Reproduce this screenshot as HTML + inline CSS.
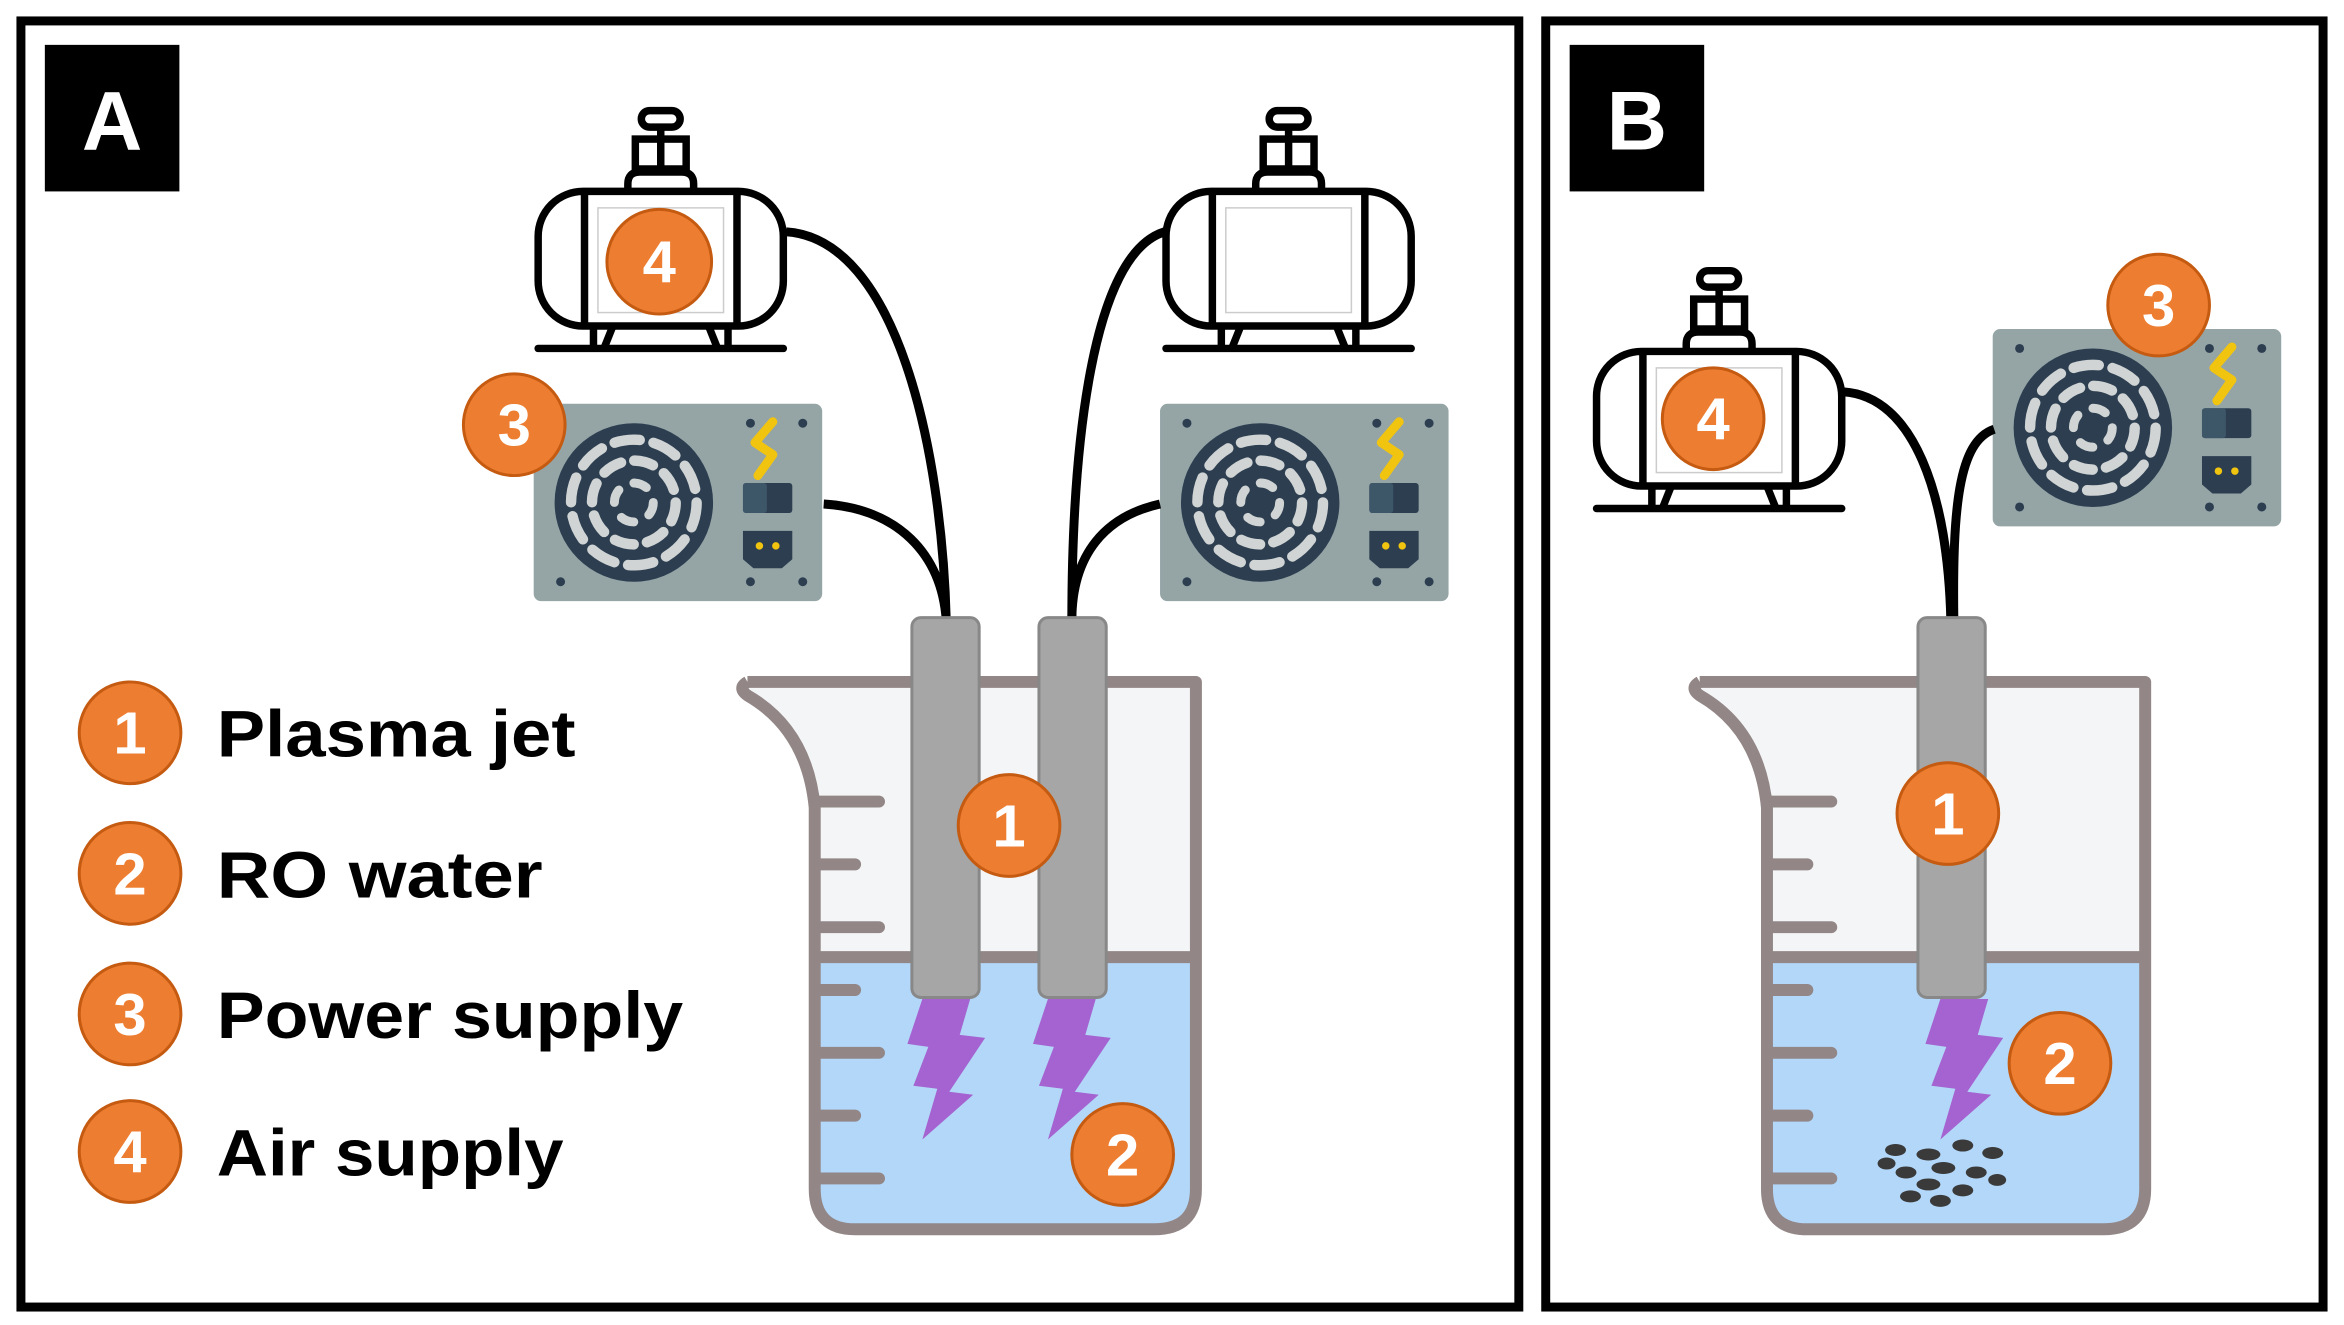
<!DOCTYPE html>
<html><head><meta charset="utf-8"><style>
html,body{margin:0;padding:0;background:#fff;}
svg{display:block;}
</style></head><body>
<svg width="2344" height="1325" viewBox="0 0 1568 886" preserveAspectRatio="none" xmlns="http://www.w3.org/2000/svg" font-family="Liberation Sans, sans-serif">
<defs>
  <g id="comp" fill="none" stroke="#000" stroke-width="5">
    <rect x="-13" y="1" width="26" height="11" rx="5.5"/>
    <line x1="0" y1="12" x2="0" y2="42"/>
    <rect x="-17" y="20" width="34" height="20" stroke-width="5"/>
    <path d="M-22 55 V50 Q-22 42 -14 42 H14 Q22 42 22 50 V55"/>
    <rect x="-82" y="55" width="164" height="90" rx="30" fill="#fff"/>
    <line x1="-51" y1="55" x2="-51" y2="145"/>
    <line x1="51" y1="55" x2="51" y2="145"/>
    <line x1="-45" y1="145" x2="-45" y2="160"/>
    <line x1="45" y1="145" x2="45" y2="160"/>
    <line x1="-32" y1="145" x2="-38" y2="160"/>
    <line x1="32" y1="145" x2="38" y2="160"/>
    <line x1="-82" y1="160" x2="82" y2="160" stroke-linecap="round"/>
    <rect x="-42" y="66" width="84" height="70" stroke="#ccc" stroke-width="1" fill="#fff"/>
  </g>
  <g id="psu">
    <rect x="0" y="0" width="193" height="132" rx="5" fill="#95a5a6"/>
    <circle cx="67" cy="66" r="53" fill="#2c3e50"/>
    <g fill="none" stroke="#d0d4d4" stroke-linecap="round">
      <circle cx="67" cy="66" r="42" stroke-width="7" stroke-dasharray="17 9.4"/>
      <circle cx="67" cy="66" r="28" stroke-width="7" stroke-dasharray="13 9"/>
      <circle cx="67" cy="66" r="13" stroke-width="6" stroke-dasharray="9 11.4"/>
    </g>
    <g fill="#2c3e50">
      <circle cx="18" cy="13" r="3"/><circle cx="145" cy="13" r="3"/><circle cx="180" cy="13" r="3"/>
      <circle cx="18" cy="119" r="3"/><circle cx="145" cy="119" r="3"/><circle cx="180" cy="119" r="3"/>
    </g>
    <path d="M160 12 L148 26 L160 34 L150 48" fill="none" stroke="#f1c40f" stroke-width="6" stroke-linecap="round" stroke-linejoin="round"/>
    <rect x="140" y="53" width="33" height="20" rx="2" fill="#2c3e50"/>
    <rect x="140" y="53" width="16" height="20" rx="2" fill="#3d5668"/>
    <path d="M140 85 H173 V104 L166 110 H147 L140 104 Z" fill="#2c3e50"/>
    <circle cx="151" cy="95" r="2.5" fill="#f1c40f"/><circle cx="162" cy="95" r="2.5" fill="#f1c40f"/>
  </g>
  <path id="bolt" d="M10 0 L42 0 L35 24 L52 26 L28 62 L44 64 L10 94 L20 60 L4 58 L14 32 L0 30 Z" fill="#a463d0"/>
  <g id="ticks" stroke="#928686" stroke-width="8" stroke-linecap="round">
    <line x1="0" y1="0" x2="41" y2="0"/>
    <line x1="0" y1="42" x2="25" y2="42"/>
    <line x1="0" y1="84" x2="41" y2="84"/>
    <line x1="0" y1="126" x2="25" y2="126"/>
    <line x1="0" y1="168" x2="41" y2="168"/>
    <line x1="0" y1="210" x2="25" y2="210"/>
    <line x1="0" y1="252" x2="41" y2="252"/>
  </g>
</defs>

<rect x="14" y="14" width="1002" height="860" fill="#fff" stroke="#000" stroke-width="6"/>
<rect x="1034" y="14" width="520" height="860" fill="#fff" stroke="#000" stroke-width="6"/>
<rect x="30" y="30" width="90" height="98" fill="#000"/>
<text x="75" y="100" fill="#fff" font-size="56" font-weight="bold" text-anchor="middle">A</text>
<rect x="1050" y="30" width="90" height="98" fill="#000"/>
<text x="1095" y="100" fill="#fff" font-size="56" font-weight="bold" text-anchor="middle">B</text>

<use href="#comp" x="442" y="73"/>
<use href="#comp" x="862" y="73"/>
<use href="#psu" x="357" y="270"/>
<use href="#psu" x="776" y="270"/>
<g fill="none" stroke="#000" stroke-width="6">
  <path d="M526 155 C600 160 630 300 633 415"/>
  <path d="M551 337 C600 340 630 370 633 415"/>
  <path d="M779 155 C730 170 717 300 717 415"/>
  <path d="M776 337 C740 345 717 370 717 415"/>
</g>
<path d="M500 456 L800 456 L800 640 L545 640 L545 540 Q540 488 500 465 Z" fill="#f4f5f7"/>
<path d="M545 640 H800 V795 Q800 822 772 822 H572 Q545 822 545 795 Z" fill="#b3d7f8"/>
<path d="M545 640 H800" stroke="#928686" stroke-width="8"/>
<path d="M500 456 H800 V795 Q800 822 772 822 H572 Q545 822 545 795 V540 Q540 488 500 465 Q493 460 500 456" fill="none" stroke="#928686" stroke-width="8" stroke-linejoin="round"/>
<use href="#ticks" x="547" y="536"/>
<rect x="610" y="413" width="45" height="254" rx="6" fill="#a6a6a6" stroke="#888" stroke-width="2"/>
<rect x="695" y="413" width="45" height="254" rx="6" fill="#a6a6a6" stroke="#888" stroke-width="2"/>
<use href="#bolt" x="607" y="668"/>
<use href="#bolt" x="691" y="668"/>

<use href="#comp" x="1150" y="180"/>
<use href="#psu" x="1333" y="220"/>
<g fill="none" stroke="#000" stroke-width="6">
  <path d="M1233 262 C1280 265 1303 330 1305 415"/>
  <path d="M1334 287 C1310 295 1306 340 1307 415"/>
</g>
<path d="M1137 456 L1435 456 L1435 640 L1182 640 L1182 540 Q1177 488 1137 465 Z" fill="#f4f5f7"/>
<path d="M1182 640 H1435 V795 Q1435 822 1407 822 H1209 Q1182 822 1182 795 Z" fill="#b3d7f8"/>
<path d="M1182 640 H1435" stroke="#928686" stroke-width="8"/>
<path d="M1137 456 H1435 V795 Q1435 822 1407 822 H1209 Q1182 822 1182 795 V540 Q1177 488 1137 465 Q1130 460 1137 456" fill="none" stroke="#928686" stroke-width="8" stroke-linejoin="round"/>
<use href="#ticks" x="1184" y="536"/>
<rect x="1283" y="413" width="45" height="254" rx="6" fill="#a6a6a6" stroke="#888" stroke-width="2"/>
<use href="#bolt" x="1288" y="668"/>
<g fill="#3a3a3a">
  <ellipse cx="1268" cy="769" rx="7" ry="4"/><ellipse cx="1290" cy="772" rx="8" ry="4"/><ellipse cx="1313" cy="766" rx="7" ry="4"/>
  <ellipse cx="1333" cy="771" rx="7" ry="4"/><ellipse cx="1300" cy="781" rx="8" ry="4"/><ellipse cx="1275" cy="784" rx="7" ry="4"/>
  <ellipse cx="1322" cy="784" rx="7" ry="4"/><ellipse cx="1290" cy="792" rx="8" ry="4"/><ellipse cx="1313" cy="796" rx="7" ry="4"/>
  <ellipse cx="1278" cy="800" rx="7" ry="4"/><ellipse cx="1298" cy="803" rx="7" ry="4"/><ellipse cx="1336" cy="789" rx="6" ry="4"/>
  <ellipse cx="1262" cy="778" rx="6" ry="4"/>
</g>

<g stroke="#c55a11" stroke-width="2" fill="#ed7d31">
  <circle cx="441" cy="175" r="35"/>
  <circle cx="344" cy="284" r="34"/>
  <circle cx="675" cy="552" r="34"/>
  <circle cx="751" cy="772" r="34"/>
  <circle cx="1146" cy="280" r="34"/>
  <circle cx="1444" cy="204" r="34"/>
  <circle cx="1303" cy="544" r="34"/>
  <circle cx="1378" cy="711" r="34"/>
  <circle cx="87" cy="490" r="34"/>
  <circle cx="87" cy="584" r="34"/>
  <circle cx="87" cy="678" r="34"/>
  <circle cx="87" cy="770" r="34"/>
</g>
<g fill="#fff" font-size="40" font-weight="bold" text-anchor="middle">
  <text x="441" y="189">4</text>
  <text x="344" y="298">3</text>
  <text x="675" y="566">1</text>
  <text x="751" y="786">2</text>
  <text x="1146" y="294">4</text>
  <text x="1444" y="218">3</text>
  <text x="1303" y="558">1</text>
  <text x="1378" y="725">2</text>
  <text x="87" y="504">1</text>
  <text x="87" y="598">2</text>
  <text x="87" y="692">3</text>
  <text x="87" y="784">4</text>
</g>
<g fill="#000" font-size="44" font-weight="bold">
  <text x="145" y="506" textLength="240" lengthAdjust="spacingAndGlyphs">Plasma jet</text>
  <text x="145" y="600" textLength="218" lengthAdjust="spacingAndGlyphs">RO water</text>
  <text x="145" y="694" textLength="312" lengthAdjust="spacingAndGlyphs">Power supply</text>
  <text x="145" y="786" textLength="232" lengthAdjust="spacingAndGlyphs">Air supply</text>
</g>
</svg>
</body></html>
